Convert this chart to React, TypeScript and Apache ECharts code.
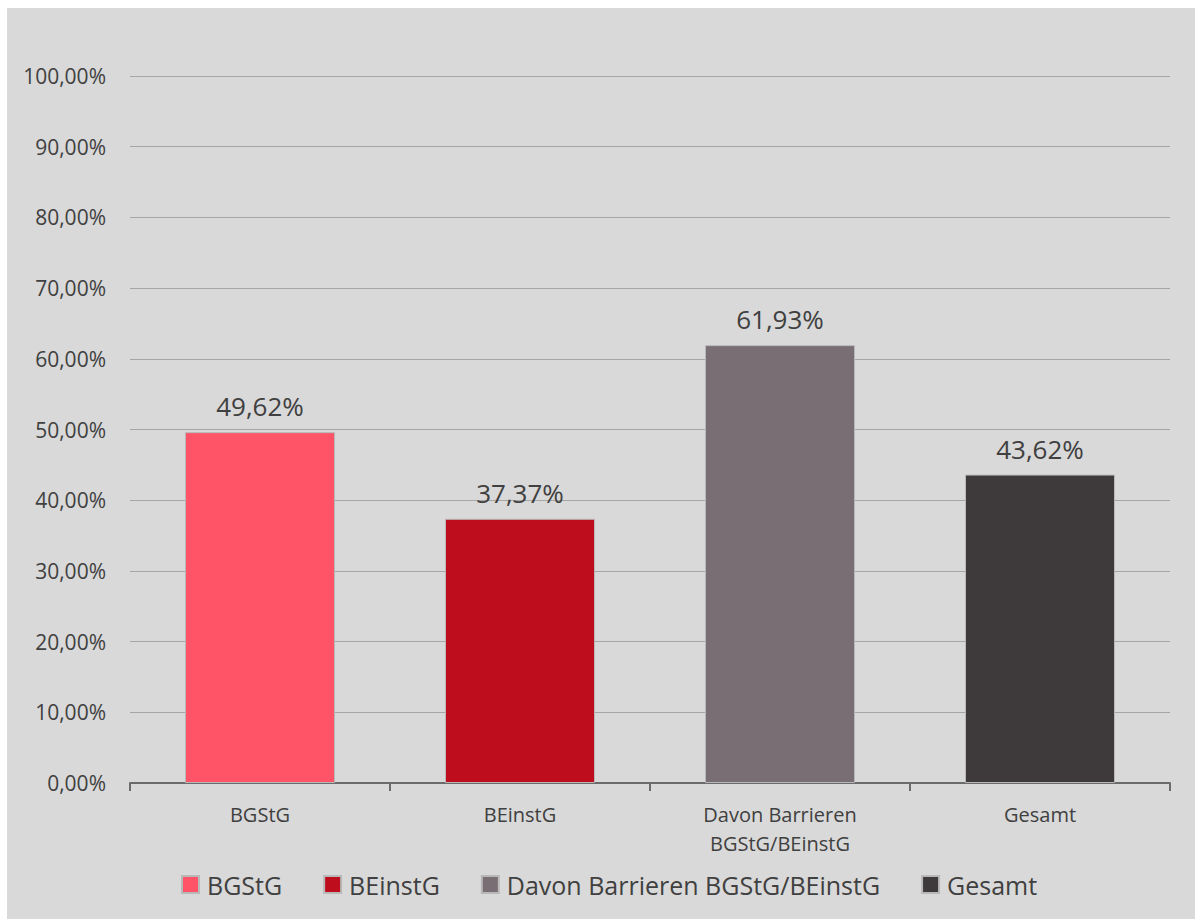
import React, { useEffect, useRef } from "react";
import * as echarts from "echarts";

const categories = ["BGStG", "BEinstG", "Davon Barrieren\nBGStG/BEinstG", "Gesamt"];
const seriesNames = ["BGStG", "BEinstG", "Davon Barrieren BGStG/BEinstG", "Gesamt"];
const values = [49.62, 37.37, 61.93, 43.62];
const colors = ["#FF5368", "#BE0E1E", "#796E73", "#3E393A"];

const fmt = (v: number) => v.toFixed(2).replace(".", ",") + "%";
const FONT = "'Open Sans', sans-serif";

export default function App() {
  const ref = useRef<HTMLDivElement>(null);
  useEffect(() => {
    if (!ref.current) return;
    const chart = echarts.init(ref.current, undefined, { renderer: "svg" });
    const series = seriesNames.map((name, i) => ({
      name,
      type: "bar",
      stack: "all",
      barWidth: 150,
      data: values.map((v, j) => (j === i ? v : "-")),
      itemStyle: { color: colors[i], borderColor: "#b8b8b8", borderWidth: 1 },
      label: {
        show: true,
        position: "top",
        distance: 13,
        formatter: (p: any) => fmt(p.value),
        fontSize: 26,
        color: "#404040",
        fontFamily: FONT,
      },
    }));
    chart.setOption({
      animation: false,
      backgroundColor: "#d9d9d9",
      textStyle: { fontFamily: FONT },
      grid: { left: 123, right: 25, top: 68, bottom: 136, containLabel: false },
      legend: {
        data: seriesNames,
        top: 859,
        left: 169,
        itemWidth: 17,
        itemHeight: 17,
        itemGap: 41,
        icon: "rect",
        textStyle: { fontSize: 25, color: "#404040", fontFamily: FONT, padding: [0, 0, 0, 3] },
      },
      xAxis: {
        type: "category",
        data: categories,
        axisLine: { lineStyle: { color: "#6b6b6b", width: 2 } },
        axisTick: { show: true, length: 8, lineStyle: { color: "#6b6b6b", width: 2 } },
        axisLabel: { fontSize: 20, color: "#404040", lineHeight: 29, margin: 17, fontFamily: FONT },
      },
      yAxis: {
        type: "value",
        min: 0,
        max: 100,
        interval: 10,
        axisLine: { show: false },
        axisTick: { show: false },
        splitLine: { lineStyle: { color: "#a6a6a6", width: 1 } },
        axisLabel: { fontSize: 21, color: "#404040", margin: 24, formatter: (v: number) => fmt(v), fontFamily: FONT },
      },
      series,
    });
    return () => chart.dispose();
  }, []);
  return (
    <div
      ref={ref}
      style={{ position: "absolute", left: 7, top: 8, width: 1188, height: 911 }}
    />
  );
}
